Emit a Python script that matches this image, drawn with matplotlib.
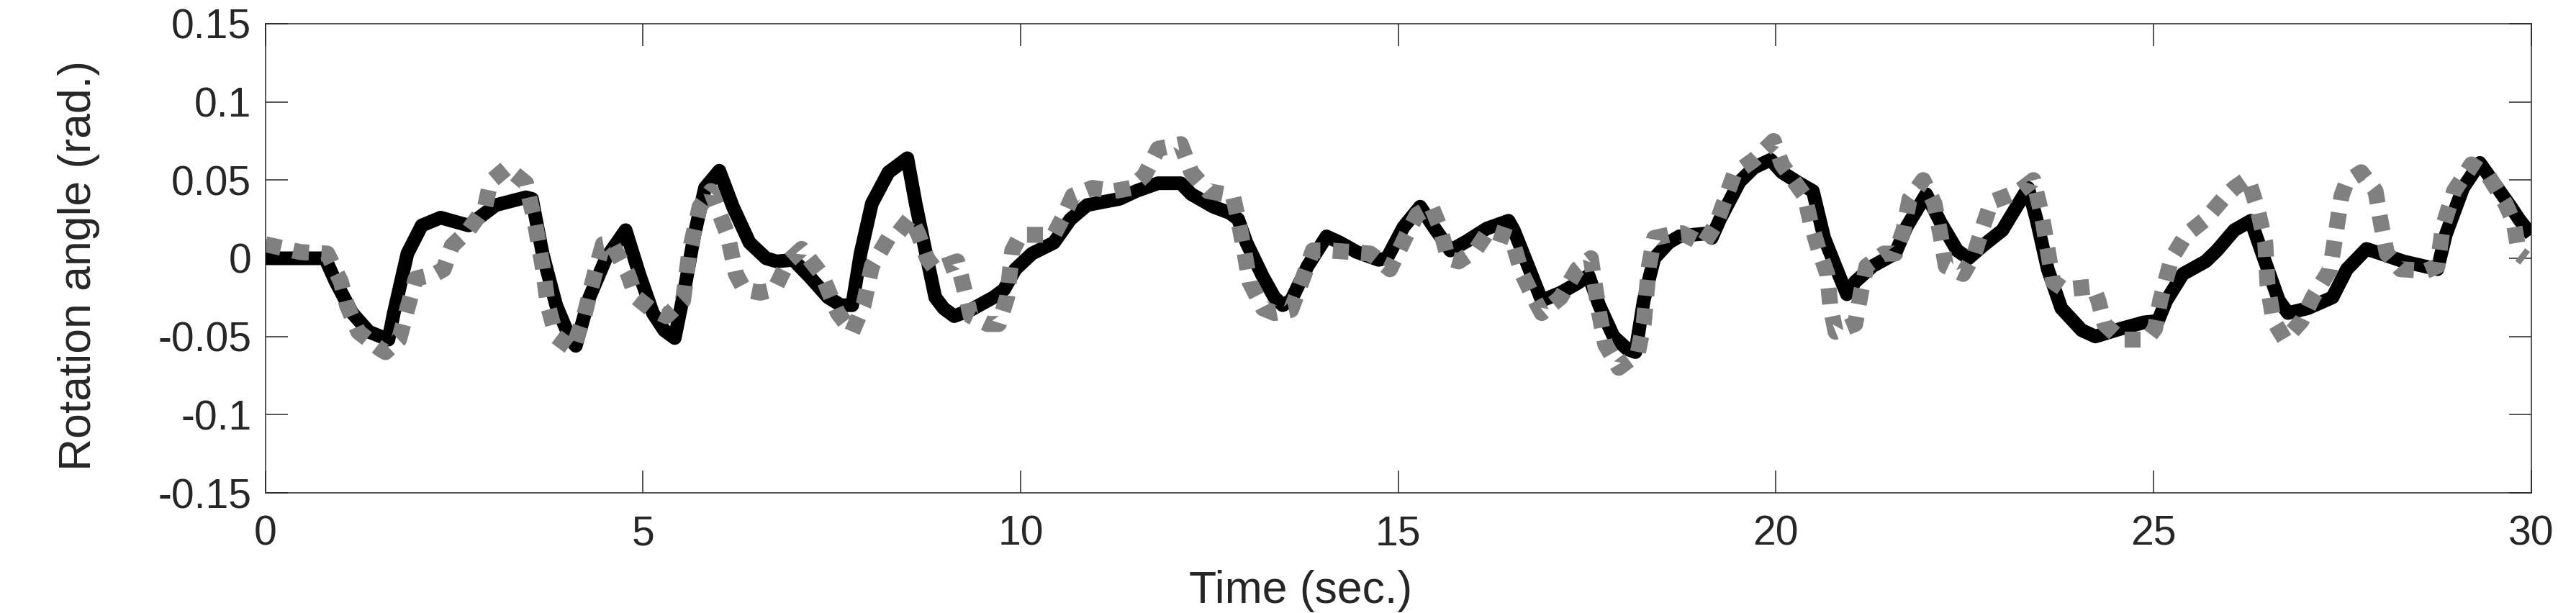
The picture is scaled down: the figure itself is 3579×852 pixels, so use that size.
"""Rotation angle over a 30 s trial: measured (solid) vs model (dotted)."""

import matplotlib

matplotlib.use("Agg")
import matplotlib.pyplot as plt

t_meas = [0, 0.79, 0.93, 1.15, 1.37, 1.63, 1.70, 1.88, 2.07, 2.32, 2.69, 2.83,
          3.05, 3.45, 3.53, 3.67, 3.85, 4.04, 4.11, 4.29, 4.51, 4.77, 4.95, 5.13,
          5.28, 5.42, 5.53, 5.68, 5.82, 6.01, 6.19, 6.41, 6.63, 6.77, 6.99, 7.21,
          7.45, 7.62, 7.77, 7.88, 8.03, 8.25, 8.50, 8.61, 8.76, 8.87, 8.98, 9.12,
          9.34, 9.64, 9.78, 9.93, 10.15, 10.44, 10.66, 10.88, 11.09, 11.31, 11.53,
          11.82, 12.12, 12.26, 12.55, 12.77, 12.88, 12.99, 13.21, 13.36, 13.47,
          13.58, 13.80, 14.05, 14.23, 14.45, 14.74, 14.85, 15.07, 15.29, 15.47,
          15.69, 15.91, 16.17, 16.46, 16.53, 16.72, 16.90, 17.15, 17.37, 17.52,
          17.66, 17.85, 18.03, 18.14, 18.25, 18.39, 18.58, 18.72, 18.89, 19.11,
          19.15, 19.26, 19.52, 19.71, 19.93, 20.08, 20.31, 20.49, 20.64, 20.83,
          20.94, 21.05, 21.28, 21.58, 21.73, 21.99, 22.18, 22.40, 22.55, 22.74,
          23.00, 23.15, 23.34, 23.45, 23.60, 23.78, 24.05, 24.23, 24.57, 24.87,
          25.06, 25.17, 25.39, 25.69, 25.84, 26.07, 26.29, 26.44, 26.66, 26.78,
          27.04, 27.37, 27.56, 27.82, 28.01, 28.31, 28.76, 28.87, 29.10, 29.32,
          29.51, 29.73, 29.84, 30.0]
ang_meas = [0, 0, -0.015, -0.035, -0.047, -0.052, -0.035, 0.003, 0.021, 0.026,
            0.021, 0.026, 0.034, 0.039, 0.038, 0.003, -0.030, -0.052, -0.056,
            -0.025, 0.0, 0.018, -0.010, -0.035, -0.046, -0.051, -0.025, 0.015,
            0.045, 0.056, 0.033, 0.010, 0.0, -0.002, -0.001, -0.012, -0.025,
            -0.030, -0.030, 0.003, 0.035, 0.055, 0.064, 0.035, 0.0, -0.025,
            -0.032, -0.037, -0.033, -0.025, -0.020, -0.007, 0.003, 0.010, 0.025,
            0.034, 0.036, 0.038, 0.043, 0.048, 0.048, 0.041, 0.033, 0.029, 0.025,
            0.010, -0.012, -0.025, -0.030, -0.027, -0.005, 0.014, 0.010, 0.004,
            -0.001, 0.0, 0.020, 0.033, 0.020, 0.005, 0.011, 0.019, 0.024, 0.018,
            -0.005, -0.027, -0.022, -0.016, -0.011, -0.030, -0.050, -0.058,
            -0.060, -0.027, 0.0, 0.010, 0.014, 0.015, 0.016, 0.013, 0.025, 0.049,
            0.058, 0.063, 0.055, 0.048, 0.043, 0.013, -0.010, -0.023, -0.015,
            -0.005, 0.003, 0.020, 0.041, 0.023, 0.005, 0.0, 0.008, 0.018, 0.030,
            0.045, 0.025, -0.007, -0.032, -0.046, -0.050, -0.045, -0.041, -0.040,
            -0.027, -0.010, -0.002, 0.005, 0.018, 0.024, 0.003, -0.027, -0.035,
            -0.032, -0.025, -0.007, 0.006, 0.003, -0.002, -0.007, 0.015, 0.045,
            0.061, 0.048, 0.033, 0.025, 0.015]

# model response (grey dotted)
t_model = [0, 0.46, 0.82, 1.00, 1.08, 1.23, 1.52, 1.59, 1.77, 1.88, 1.99, 2.25,
           2.36, 2.47, 2.69, 2.91, 2.98, 3.20, 3.45, 3.56, 3.67, 3.74, 3.85, 4.07,
           4.22, 4.36, 4.47, 4.58, 4.80, 4.91, 5.09, 5.31, 5.53, 5.61, 5.75, 5.90,
           6.12, 6.23, 6.34, 6.55, 6.74, 6.92, 7.10, 7.36, 7.58, 7.77, 7.92, 8.03,
           8.25, 8.36, 8.54, 8.65, 8.76, 8.87, 9.16, 9.23, 9.34, 9.56, 9.71, 9.82,
           9.89, 10.00, 10.22, 10.44, 10.58, 10.69, 10.95, 11.24, 11.46, 11.64,
           11.82, 12.12, 12.26, 12.48, 12.81, 12.88, 12.96, 13.03, 13.21, 13.36,
           13.58, 13.72, 13.87, 14.09, 14.38, 14.63, 14.89, 15.11, 15.25, 15.44,
           15.55, 15.66, 15.80, 16.02, 16.20, 16.50, 16.64, 16.79, 16.90, 17.15,
           17.37, 17.55, 17.66, 17.74, 17.92, 18.17, 18.25, 18.32, 18.39, 18.58,
           18.76, 19.04, 19.22, 19.33, 19.45, 19.71, 19.97, 20.08, 20.23, 20.38,
           20.46, 20.57, 20.68, 20.72, 20.79, 21.05, 21.13, 21.20, 21.43, 21.58,
           21.69, 21.77, 21.95, 22.10, 22.18, 22.25, 22.48, 22.63, 22.74, 22.85,
           23.07, 23.22, 23.41, 23.52, 23.60, 23.67, 23.82, 24.20, 24.27, 24.35,
           24.57, 24.91, 25.02, 25.09, 25.24, 25.43, 25.69, 25.92, 26.07, 26.25,
           26.37, 26.48, 26.51, 26.59, 26.74, 26.96, 27.11, 27.34, 27.41, 27.49,
           27.56, 27.75, 27.94, 28.01, 28.09, 28.27, 28.61, 28.76, 28.83, 28.98,
           29.21, 29.43, 29.66, 29.77, 29.84, 29.92]
ang_model = [0.009, 0.004, 0.003, -0.015, -0.030, -0.047, -0.058, -0.060, -0.052,
             -0.032, -0.013, -0.010, -0.007, 0.008, 0.018, 0.033, 0.049, 0.058,
             0.048, 0.025, -0.005, -0.030, -0.050, -0.058, -0.037, -0.010, 0.009,
             0.010, -0.010, -0.025, -0.032, -0.037, -0.027, 0.003, 0.033, 0.043,
             0.015, -0.010, -0.020, -0.022, -0.020, -0.002, 0.006, -0.010, -0.035,
             -0.047, -0.030, -0.005, 0.013, 0.015, 0.026, 0.015, 0.0, -0.007,
             -0.002, -0.015, -0.037, -0.042, -0.042, -0.025, 0.005, 0.015, 0.015,
             0.015, 0.028, 0.040, 0.045, 0.043, 0.045, 0.053, 0.070, 0.073, 0.055,
             0.043, 0.040, 0.025, 0.005, -0.015, -0.032, -0.035, -0.033, -0.015,
             0.005, 0.005, 0.004, 0.003, -0.007, 0.015, 0.028, 0.033, 0.020, 0.0,
             -0.002, 0.005, 0.018, 0.013, -0.010, -0.025, -0.035, -0.025, -0.007,
             0.0, -0.035, -0.055, -0.070, -0.061, -0.042, -0.005, 0.013, 0.015,
             0.016, 0.009, 0.023, 0.038, 0.054, 0.063, 0.075, 0.060, 0.050, 0.040,
             0.023, 0.005, -0.010, -0.030, -0.047, -0.042, -0.021, -0.005, 0.003,
             0.003, 0.018, 0.038, 0.050, 0.035, 0.015, -0.005, -0.010, 0.003,
             0.020, 0.036, 0.040, 0.043, 0.050, 0.028, 0.005, -0.015, -0.020,
             -0.018, -0.027, -0.042, -0.052, -0.052, -0.045, -0.027, 0.0, 0.015,
             0.025, 0.038, 0.045, 0.051, 0.033, 0.010, -0.017, -0.040, -0.052,
             -0.040, -0.025, -0.007, 0.015, 0.040, 0.049, 0.055, 0.043, 0.023,
             0.003, -0.007, -0.008, -0.005, 0.020, 0.043, 0.060, 0.053, 0.035,
             0.023, 0.003, 0.0]

x_ticks = [0, 5, 10, 15, 20, 25, 30]
y_ticks = [-0.15, -0.1, -0.05, 0, 0.05, 0.1, 0.15]
y_tick_labels = ["-0.15", "-0.1", "-0.05", "0", "0.05", "0.1", "0.15"]

AXIS_COLOR = "#262626"


def _plot() -> None:
    plt.rcParams["font.family"] = ["Liberation Sans", "DejaVu Sans"]
    fig = plt.figure(figsize=(35.8, 8.52), dpi=100)
    ax = fig.add_axes([0.103, 0.196, 0.8793, 0.7653])

    ax.plot(t_meas, ang_meas, color="black", lw=13.7,
            solid_joinstyle="round", solid_capstyle="butt")
    ax.plot(t_model, ang_model, color="#808080", lw=16,
            linestyle=(0, (1.0, 0.78)), dash_capstyle="butt")

    ax.set_xlim(0, 30)
    ax.set_ylim(-0.15, 0.15)
    ax.set_xticks(x_ticks)
    ax.set_yticks(y_ticks)
    ax.set_yticklabels(y_tick_labels)

    for s in ax.spines.values():
        s.set_color(AXIS_COLOR)
        s.set_linewidth(1.1)
    ax.tick_params(direction="in", length=22, width=1.1, color=AXIS_COLOR,
                   labelcolor=AXIS_COLOR, labelsize=41,
                   top=True, right=True)
    ax.tick_params(axis="x", pad=22)
    ax.tick_params(axis="y", pad=14)

    ax.set_xlabel("Time (sec.)", fontsize=45, color=AXIS_COLOR)
    ax.set_ylabel("Rotation angle (rad.)", fontsize=45, color=AXIS_COLOR)
    ax.xaxis.set_label_coords(0.457, -0.164)
    ax.yaxis.set_label_coords(-0.073, 0.485)

    fig.savefig("out.png", dpi=100)
    plt.close(fig)


if __name__ == "__main__":
    _plot()
